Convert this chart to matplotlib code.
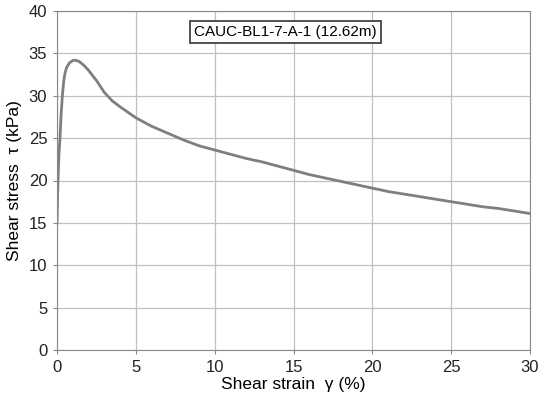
import numpy as np
import matplotlib.pyplot as plt

plt.rcParams['font.family'] = ['Liberation Sans', 'DejaVu Sans']

# shear strain (%) and shear stress (kPa)
strain = [0.0, 0.04, 0.08, 0.13, 0.19, 0.26, 0.34, 0.42, 0.5, 0.6, 0.8, 1.0, 1.15, 1.4,
          1.7, 2.0, 2.5, 3.0, 3.5, 4.0, 5.0, 6.0, 7.0, 8.0, 9.0, 10.0, 11.0, 12.0,
          13.0, 14.0, 15.0, 16.0, 17.0, 18.0, 19.0, 20.0, 21.0, 22.0, 23.0, 24.0,
          25.0, 26.0, 27.0, 28.0, 29.0, 30.0]
stress = [15.0, 18.5, 21.0, 23.3, 25.0, 27.8, 30.0, 31.6, 32.6, 33.3, 33.9, 34.15,
          34.2, 34.05, 33.6, 33.0, 31.8, 30.4, 29.4, 28.7, 27.4, 26.4, 25.6, 24.8,
          24.1, 23.6, 23.1, 22.6, 22.2, 21.7, 21.2, 20.7, 20.3, 19.9, 19.5, 19.1,
          18.7, 18.4, 18.1, 17.8, 17.5, 17.2, 16.9, 16.7, 16.4, 16.1]

xticks = [0, 5, 10, 15, 20, 25, 30]
yticks = [0, 5, 10, 15, 20, 25, 30, 35, 40]

fig = plt.figure(figsize=(5.38, 3.94), dpi=100)
ax = fig.add_axes([57/538, 1 - 350/394, 473/538, 339/394])

ax.plot(strain, stress, color='#7f7f7f', lw=2.0)

ax.set_xlim(0, 30)
ax.set_ylim(0, 40)
ax.set_xticks(xticks)
ax.set_yticks(yticks)
ax.grid(True, color='#c0c0c0', lw=0.9)
ax.tick_params(length=3, labelsize=12, color='#888888', pad=4, labelcolor='#222222')
for s in ax.spines.values():
    s.set_color('#888888')

ax.set_xlabel('Shear strain  γ (%)', fontsize=12.5, labelpad=2)
ax.set_ylabel('Shear stress  τ (kPa)', fontsize=12.5, labelpad=5)

ax.text(14.5, 37.5, 'CAUC-BL1-7-A-1 (12.62m)', ha='center', va='center', fontsize=11,
        bbox=dict(boxstyle='square,pad=0.25', fc='white', ec='#333333', lw=1.2))

fig.savefig('out.png', dpi=100)
